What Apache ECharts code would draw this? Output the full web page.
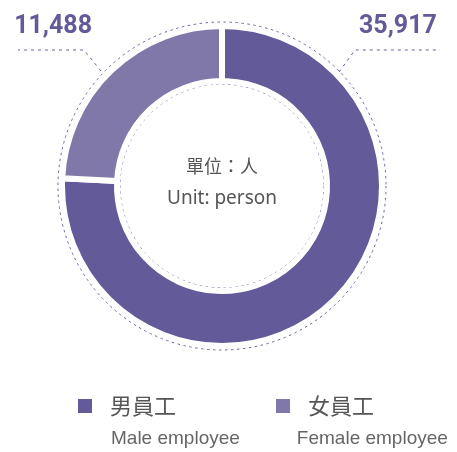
<!DOCTYPE html>
<html>
<head>
<meta charset="utf-8">
<script src="https://cdn.jsdelivr.net/npm/echarts@6/dist/echarts.min.js"></script>
<style>
  html, body { margin: 0; padding: 0; background: #fff; }
  #main { width: 457px; height: 452px; }
</style>
</head>
<body>
<div id="main"></div>
<script>
// data
let names = ['男員工', '女員工']
let namesEn = ['Male employee', 'Female employee']
let values = [35917, 11488]
let colors = ['#625a99', '#8178aa']

let cx = 222
let cy = 186
let lineColor = '#6a62a3'

let chart = echarts.init(document.getElementById('main'))

let data = names.map((n, i) => ({
  name: n,
  value: values[i],
  itemStyle: {color: colors[i]}
}))

let option = {
  animation: false,
  legend: [
    {
      // 中文图例
      data: names,
      left: 76,
      top: 395,
      padding: 0,
      itemWidth: 16,
      itemHeight: 16,
      itemGap: 98,
      icon: 'rect',
      selectedMode: false,
      textStyle: {
        fontSize: 22,
        color: '#555',
        fontFamily: 'Noto Sans CJK TC',
        padding: [0, 0, 0, 12]
      }
    },
    {
      // 英文说明
      data: names,
      left: 106,
      top: 429,
      padding: 0,
      itemWidth: 0,
      itemHeight: 16,
      itemGap: 52,
      icon: 'rect',
      selectedMode: false,
      itemStyle: {color: 'rgba(0,0,0,0)', borderWidth: 0},
      formatter: function (name) {
        return namesEn[names.indexOf(name)]
      },
      textStyle: {
        fontSize: 19,
        color: '#666',
        fontFamily: 'Liberation Sans'
      }
    }
  ],
  graphic: [
    {
      type: 'circle',
      silent: true,
      shape: {cx: cx, cy: cy, r: 164},
      style: {fill: 'none', stroke: lineColor, lineWidth: 1, lineDash: [2.5, 3.5]}
    },
    {
      type: 'circle',
      silent: true,
      shape: {cx: cx, cy: cy, r: 102},
      style: {fill: 'none', stroke: lineColor, lineWidth: 1, lineDash: [2.5, 3.5]}
    },
    {
      type: 'text',
      silent: true,
      style: {
        x: cx, y: 166, text: '單位：人', align: 'center', verticalAlign: 'middle',
        fontSize: 18, fill: '#555', fontFamily: 'Noto Sans CJK TC'
      }
    },
    {
      type: 'text',
      silent: true,
      style: {
        x: cx, y: 199, text: 'Unit: person', align: 'center', verticalAlign: 'middle',
        fontSize: 19, fill: '#555', fontFamily: 'Noto Sans'
      }
    }
  ],
  series: [
    {
      type: 'pie',
      center: [cx, cy],
      radius: [105, 160],
      startAngle: 90,
      clockwise: true,
      silent: true,
      itemStyle: {borderColor: '#fff', borderWidth: 6},
      label: {
        show: true,
        overflow: 'none',
        formatter: function (p) {
          return p.value.toLocaleString('en-US')
        },
        fontSize: 25,
        fontWeight: 'bold',
        color: '#625a99',
        fontFamily: 'Roboto'
      },
      labelLine: {
        show: true,
        lineStyle: {color: lineColor, width: 1, type: [3, 4]}
      },
      labelLayout: function (params) {
        if (params.dataIndex === 0) {
          return {
            x: 359, y: 27, align: 'left', verticalAlign: 'middle', width: 120,
            labelLinePoints: [[339, 72], [355, 50], [440, 50]]
          }
        }
        return {
          x: 92, y: 27, align: 'right', verticalAlign: 'middle', width: 120,
          labelLinePoints: [[101, 71], [84, 50], [18, 50]]
        }
      },
      data: data
    }
  ]
}

chart.setOption(option)
</script>
</body>
</html>
